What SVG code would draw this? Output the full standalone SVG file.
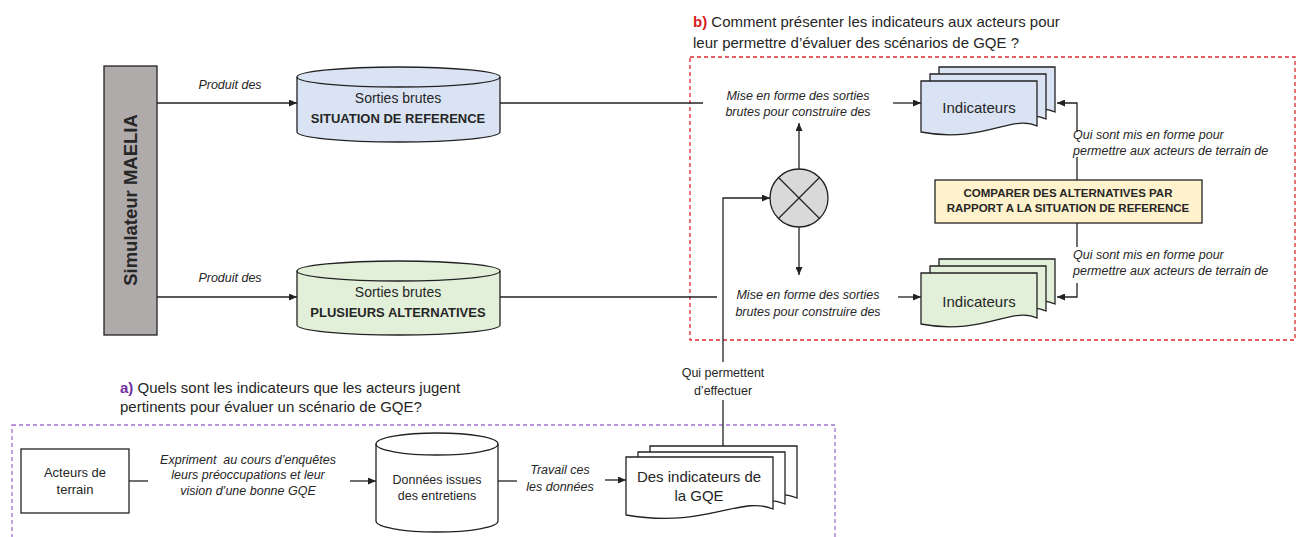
<svg xmlns="http://www.w3.org/2000/svg" width="1301" height="537" viewBox="0 0 1301 537">
<defs>
<marker id="arr" markerUnits="userSpaceOnUse" markerWidth="8" markerHeight="7" refX="8" refY="3.5" orient="auto">
<path d="M0,0 L8,3.5 L0,7 Z" fill="#222"/>
</marker>
<style>
text{font-family:"Liberation Sans",Arial,sans-serif;fill:#262626}
.c{text-anchor:middle}
.it{font-style:italic;font-size:12.5px}
.ln{fill:none;stroke:#222;stroke-width:1.3}
.ar{marker-end:url(#arr)}
.shape{stroke:#222;stroke-width:1.3}
.title{font-size:15px}
</style>
</defs>
<rect width="1301" height="537" fill="#fff"/>

<!-- frames -->
<g id="frame-b">
<rect x="690" y="57" width="605" height="283" fill="none" stroke="#e0282e" stroke-width="1.3" stroke-dasharray="4,3"/>
<text class="title" x="693" y="27"><tspan font-weight="bold" fill="#d92020">b)</tspan> Comment présenter les indicateurs aux acteurs pour</text>
<text class="title" x="693" y="48">leur permettre d’évaluer des scénarios de GQE ?</text>
</g>
<g id="frame-a">
<rect x="12" y="425" width="823" height="140" fill="none" stroke="#a070d0" stroke-width="1.3" stroke-dasharray="4,3"/>
<text class="title" x="120" y="393"><tspan font-weight="bold" fill="#7030a0">a)</tspan> Quels sont les indicateurs que les acteurs jugent</text>
<text class="title" x="120" y="412">pertinents pour évaluer un scénario de GQE?</text>
</g>

<!-- connectors -->
<g id="connectors">
<path class="ln ar" d="M157,103 H297"/>
<path class="ln ar" d="M157,297 H297"/>
<path class="ln" d="M500,103 H703"/>
<path class="ln" d="M500,297 H717"/>
<path class="ln ar" d="M893,103 H921"/>
<path class="ln ar" d="M898,297 H921"/>
<path class="ln ar" d="M799,169 V123"/>
<path class="ln ar" d="M799,227 V275"/>
<path class="ln ar" d="M723,362 V198 H770"/>
<path class="ln" d="M723,446 V400"/>
<path class="ln" d="M1077,180 V157"/>
<path class="ln ar" d="M1077,132 V103 H1057"/>
<path class="ln" d="M1077,223 V247"/>
<path class="ln ar" d="M1077,283 V297 H1057"/>
<path class="ln" d="M129,481 H148"/>
<path class="ln ar" d="M350,481 H376"/>
<path class="ln" d="M498,481 H517"/>
<path class="ln ar" d="M605,480 H626"/>
<text class="it c" x="230" y="89">Produit des</text>
<text class="it c" x="230" y="282">Produit des</text>
<text class="it c" x="798" y="100">Mise en forme des sorties</text>
<text class="it c" x="798" y="116">brutes pour construire des</text>
<text class="it c" x="808" y="299">Mise en forme des sorties</text>
<text class="it c" x="808" y="316">brutes pour construire des</text>
<text class="it" x="1073" y="139">Qui sont mis en forme pour</text>
<text class="it" x="1073" y="155">permettre aux acteurs de terrain de</text>
<text class="it" x="1073" y="259">Qui sont mis en forme pour</text>
<text class="it" x="1073" y="275">permettre aux acteurs de terrain de</text>
<text class="c" x="723" y="377" font-size="12.5">Qui permettent</text>
<text class="c" x="723" y="395" font-size="12.5">d’effectuer</text>
<text class="it c" x="248" y="464" xml:space="preserve">Expriment  au cours d’enquêtes</text>
<text class="it c" x="248" y="479">leurs préoccupations et leur</text>
<text class="it c" x="248" y="495">vision d’une bonne GQE</text>
<text class="it c" x="560" y="474">Travail ces</text>
<text class="it c" x="560" y="491">les données</text>
</g>

<!-- simulator -->
<g id="simulateur">
<rect class="shape" x="104" y="66" width="53" height="269" fill="#afabab"/>
<text class="c" transform="translate(136.5,200) rotate(-90)" font-size="18.5" font-weight="bold">Simulateur MAELIA</text>
</g>

<!-- top cylinder -->
<g id="sorties-reference">
<path class="shape" d="M297,77 A101.5,10 0 0,1 500,77 V132 A101.5,10 0 0,1 297,132 Z" fill="#dae3f3"/>
<path class="shape" d="M297,77 A101.5,10 0 0,0 500,77" fill="none"/>
<text class="c" x="398" y="103" font-size="14">Sorties brutes</text>
<text class="c" x="398" y="123" font-size="13" font-weight="bold">SITUATION DE REFERENCE</text>
</g>

<g id="sorties-alternatives">
<path class="shape" d="M297,271 A101.5,10 0 0,1 500,271 V325 A101.5,10 0 0,1 297,325 Z" fill="#e2f0d9"/>
<path class="shape" d="M297,271 A101.5,10 0 0,0 500,271" fill="none"/>
<text class="c" x="398" y="297" font-size="14">Sorties brutes</text>
<text class="c" x="398" y="317" font-size="13" font-weight="bold">PLUSIEURS ALTERNATIVES</text>
</g>

<!-- junction -->
<g id="jonction">
<circle class="shape" cx="799" cy="198" r="29" fill="#d9d9d9"/>
<path class="shape" d="M778.5,177.5 L819.5,218.5 M819.5,177.5 L778.5,218.5" fill="none"/>
</g>

<!-- indicateurs top -->
<g id="indicateurs-reference">
<path class="shape" d="M939,67 H1055 V112 C1030,100 1000,130 939,118 Z" fill="#dae3f3"/>
<path class="shape" d="M930,74 H1046 V119 C1021,107 991,137 930,125 Z" fill="#dae3f3"/>
<path class="shape" d="M921,81 H1037 V126 C1012,114 982,144 921,132 Z" fill="#dae3f3"/>
<text class="c" x="979" y="113" font-size="15">Indicateurs</text>
</g>

<g id="indicateurs-alternatives">
<path class="shape" d="M939,259 H1055 V304 C1030,292 1000,322 939,310 Z" fill="#e2f0d9"/>
<path class="shape" d="M930,266 H1046 V311 C1021,299 991,329 930,317 Z" fill="#e2f0d9"/>
<path class="shape" d="M921,273 H1037 V318 C1012,306 982,336 921,324 Z" fill="#e2f0d9"/>
<text class="c" x="979" y="307" font-size="15">Indicateurs</text>
</g>

<g id="comparer">
<rect class="shape" x="935" y="180" width="267" height="43" fill="#fff2cc"/>
<text class="c" x="1068" y="197" font-size="11.5" font-weight="bold">COMPARER DES ALTERNATIVES PAR</text>
<text class="c" x="1068" y="212" font-size="11.5" font-weight="bold">RAPPORT A LA SITUATION DE REFERENCE</text>
</g>

<!-- bottom part -->
<g id="acteurs">
<rect class="shape" x="21" y="449" width="108" height="64" fill="#fff"/>
<text class="c" x="75" y="477" font-size="13">Acteurs de</text>
<text class="c" x="75" y="494" font-size="13">terrain</text>
</g>

<g id="donnees">
<path class="shape" d="M376,444 A61,11 0 0,1 498,444 V521 A61,11 0 0,1 376,521 Z" fill="#fff"/>
<path class="shape" d="M376,444 A61,11 0 0,0 498,444" fill="none"/>
<text class="c" x="437" y="484" font-size="12.5">Données issues</text>
<text class="c" x="437" y="500" font-size="12.5">des entretiens</text>
</g>

<g id="indicateurs-gqe">
<path class="shape" d="M650,446 H797 V498 C765,484 730,518 650,504 Z" fill="#fff"/>
<path class="shape" d="M638,452 H785 V504 C753,490 718,524 638,510 Z" fill="#fff"/>
<path class="shape" d="M626,457 H773 V509 C741,495 706,529 626,515 Z" fill="#fff"/>
<text class="c" x="699" y="482" font-size="15">Des indicateurs de</text>
<text class="c" x="699" y="501" font-size="15">la GQE</text>
</g>
</svg>
